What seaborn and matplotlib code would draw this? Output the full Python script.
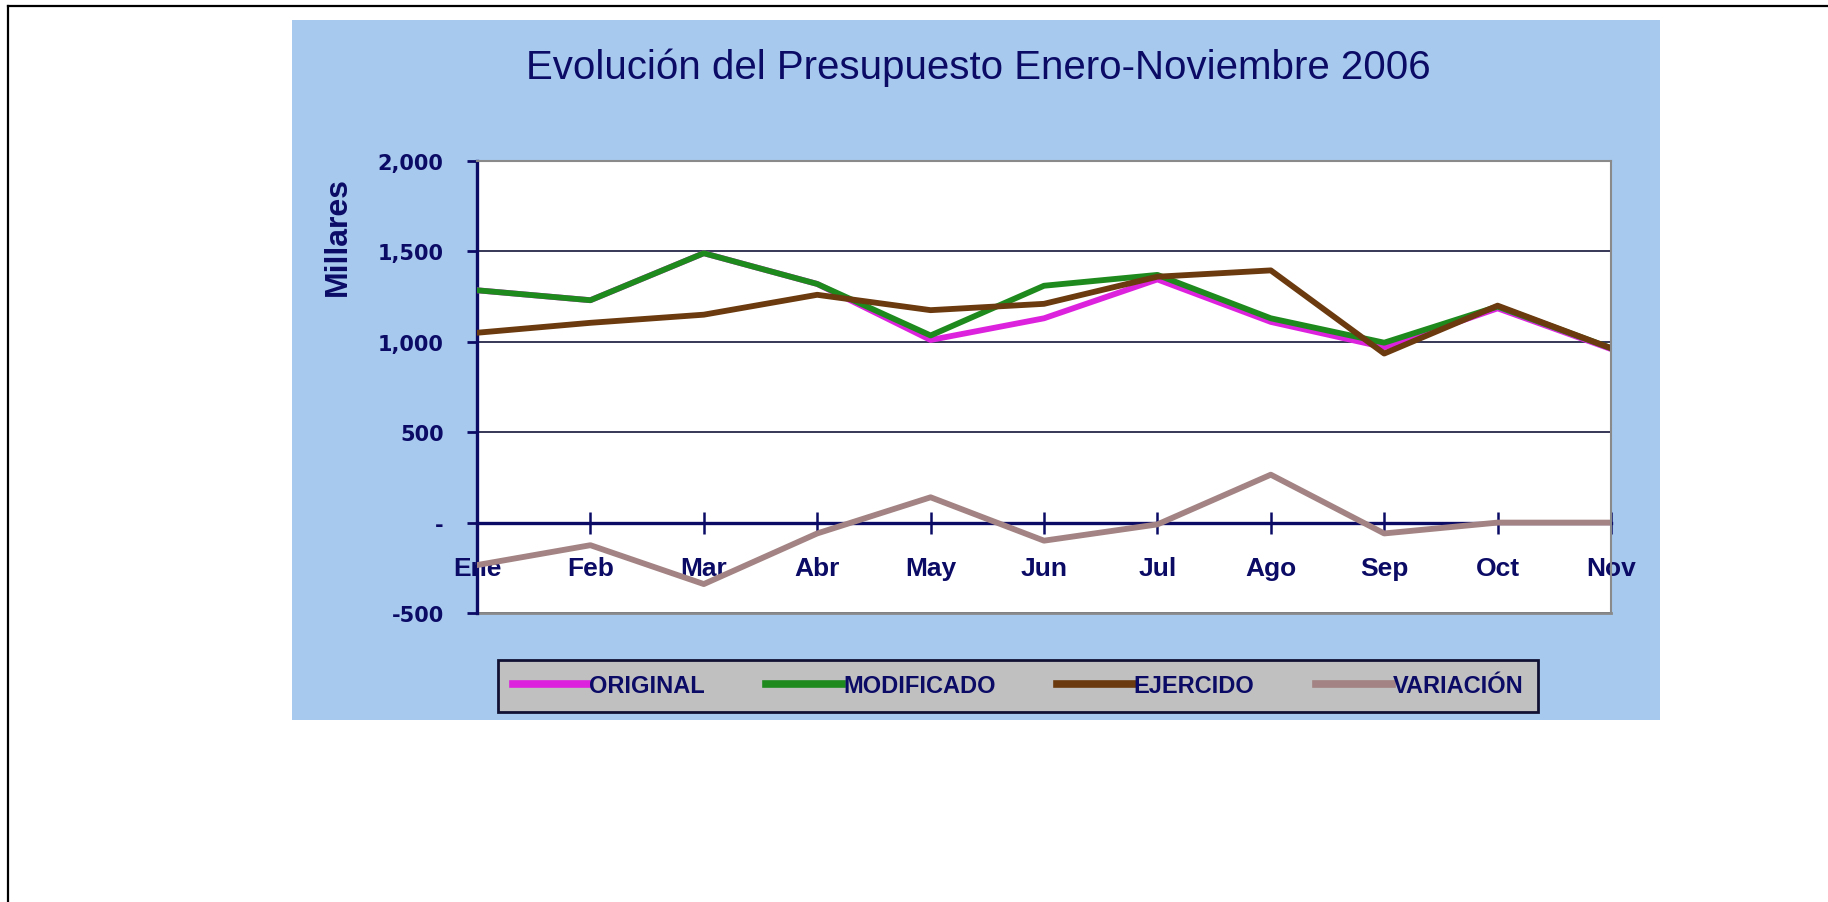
import seaborn as sns
import numpy as np
import pandas as pd
import matplotlib.pyplot as plt
from matplotlib.lines import Line2D
from matplotlib.patches import Rectangle
from matplotlib.font_manager import FontProperties

# datos (millares)
meses = ['Ene', 'Feb', 'Mar', 'Abr', 'May', 'Jun', 'Jul', 'Ago', 'Sep', 'Oct', 'Nov']
original = [1285, 1230, 1490, 1320, 1010, 1130, 1345, 1110, 970, 1185, 960]
modificado = [1285, 1230, 1490, 1320, 1035, 1310, 1370, 1130, 995, 1195, 965]
ejercido = [1050, 1105, 1150, 1260, 1175, 1210, 1360, 1395, 935, 1200, 965]
variacion = [-235, -125, -340, -60, 140, -100, -10, 265, -60, 0, 0]

series = ['ORIGINAL', 'MODIFICADO', 'EJERCIDO', 'VARIACIÓN']
colores = ['#DD22DD', '#1E8A1E', '#6B3A0E', '#A38383']
yticks = [-500, 0, 500, 1000, 1500, 2000]
ytick_labels = ['-500', '-', '500', '1,000', '1,500', '2,000']

navy = '#0b0b66'
W, H = 1828, 903

df = pd.DataFrame({
    'mes': meses * 4,
    'valor': original + modificado + ejercido + variacion,
    'serie': [s for s in series for _ in meses],
})

fig = plt.figure(figsize=(W / 100, H / 100), dpi=100, facecolor='white')

# fondo azul del area del grafico
fig.add_artist(Rectangle((292 / W, 1 - 721 / H), (1660 - 292) / W, 700 / H,
                         transform=fig.transFigure, facecolor='#A8C9EE',
                         edgecolor='none', zorder=-1))
# marco negro de la imagen (arriba e izquierda)
fig.add_artist(Line2D([8 / W, 1], [1 - 7 / H, 1 - 7 / H], color='black', lw=1.6,
                      transform=fig.transFigure))
fig.add_artist(Line2D([8 / W, 8 / W], [0, 1 - 7 / H], color='black', lw=1.6,
                      transform=fig.transFigure))

ax = fig.add_axes([477 / W, 1 - 614 / H, (1611 - 477) / W, (614 - 162) / H])
ax.set_facecolor('white')

sns.lineplot(data=df, x='mes', y='valor', hue='serie', hue_order=series,
             palette=colores, linewidth=4.2, sort=False, estimator=None,
             legend=False, ax=ax)

ax.set_xlim(0, len(meses) - 1)
ax.set_ylim(yticks[0], yticks[-1])
ax.set_yticks(yticks)
ax.set_yticklabels(ytick_labels)
ax.set_xticks(range(len(meses)))
ax.set_xticklabels(meses)
ax.set_xlabel('')
ax.set_ylabel('')

ax.yaxis.grid(True, color='#14143a', lw=1.2)
ax.axhline(yticks[0], color='#8a8a8a', lw=2, clip_on=False, zorder=1.6)

ax.spines['bottom'].set_position(('data', 0))
ax.spines['bottom'].set_color(navy)
ax.spines['bottom'].set_linewidth(2.4)
ax.spines['bottom'].set_zorder(1.7)
ax.spines['left'].set_color(navy)
ax.spines['left'].set_linewidth(2.4)
ax.spines['left'].set_zorder(1.7)
for s in ['top', 'right']:
    ax.spines[s].set_color('#8a8a8a')
    ax.spines[s].set_linewidth(1.5)

ax.tick_params(axis='y', direction='out', length=7, width=2, color=navy,
               pad=17, labelsize=15, labelcolor=navy)
ax.tick_params(axis='x', direction='inout', length=16, width=1.8, color=navy,
               pad=16, labelsize=19, labelcolor=navy)
for lab in ax.get_yticklabels():
    lab.set_fontweight('bold')
    lab.set_family('DejaVu Sans')
for lab in ax.get_xticklabels():
    lab.set_fontweight('bold')
    lab.set_family(['Liberation Sans', 'DejaVu Sans'])

fig.text(978 / W, 1 - 68 / H, 'Evolución del Presupuesto Enero-Noviembre 2006',
         ha='center', va='center', fontsize=29, color=navy,
         family=['Liberation Sans', 'DejaVu Sans'])
fig.text(338 / W, 1 - 236 / H, 'Millares', rotation=90, ha='center', va='center',
         fontsize=23, fontweight='bold', color=navy,
         family=['Liberation Sans', 'DejaVu Sans'])

handles = [Line2D([], [], color=c, lw=5.5) for c in colores]
leg = fig.legend(handles, series, loc='center', bbox_to_anchor=(1018 / W, 1 - 687 / H),
                 ncol=4, frameon=True, fancybox=False, edgecolor='#111133',
                 facecolor='#C0C0C0', framealpha=1, handlelength=3.2,
                 handletextpad=0.05, columnspacing=2.6, borderpad=0.6,
                 prop=FontProperties(family=['Liberation Sans', 'DejaVu Sans'],
                                     weight='bold', size=17),
                 labelcolor=navy)
leg.get_frame().set_linewidth(2)

fig.savefig('out.png', dpi=100, facecolor='white')
